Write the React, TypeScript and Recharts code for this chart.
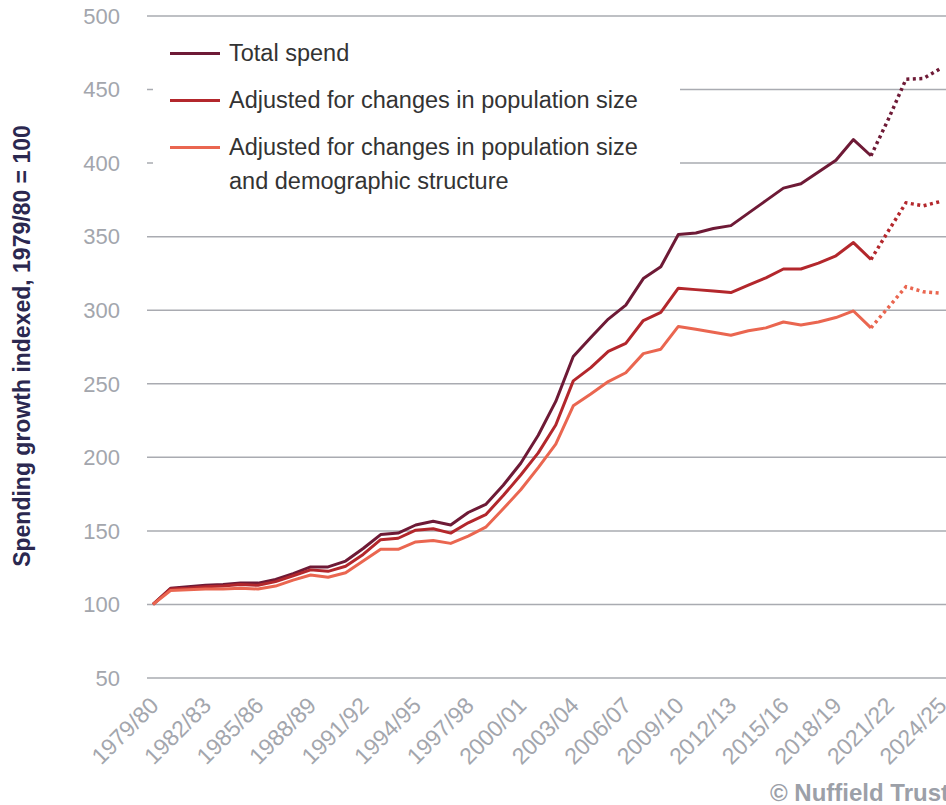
import React from 'react';
import {
  LineChart,
  Line,
  XAxis,
  YAxis,
  CartesianGrid,
} from 'recharts';

const years = [
  '1979/80', '1980/81', '1981/82', '1982/83', '1983/84', '1984/85', '1985/86', '1986/87',
  '1987/88', '1988/89', '1989/90', '1990/91', '1991/92', '1992/93', '1993/94', '1994/95',
  '1995/96', '1996/97', '1997/98', '1998/99', '1999/00', '2000/01', '2001/02', '2002/03',
  '2003/04', '2004/05', '2005/06', '2006/07', '2007/08', '2008/09', '2009/10', '2010/11',
  '2011/12', '2012/13', '2013/14', '2014/15', '2015/16', '2016/17', '2017/18', '2018/19',
  '2019/20', '2020/21', '2021/22', '2022/23', '2023/24', '2024/25',
];

const totalSpend = [
  100, 111, 112, 113, 113.5, 114.5, 114.5, 117, 121, 125.5, 125.5, 129.5, 138, 147.5, 148.5, 154,
  156.5, 154, 162.5, 168, 181, 196, 215, 238, 268.5, 281.5, 294, 303.5, 321.5, 329.5, 351.5, 352.5,
  355.5, 357.5, 366, 374.5, 383, 386, 394, 402, 416, 405, 430, 457, 457.5, 464.5,
];

const populationAdjusted = [
  100, 110.5, 111, 112, 112.5, 113.5, 113, 115.5, 119.5, 123.5, 122.5, 126, 134, 144, 145, 150.5,
  151.5, 148.5, 155.5, 161, 174, 188, 203, 222, 252, 261, 272, 277.5, 293, 298.5, 315, 314,
  313, 312, 317, 322, 328, 328, 332, 337, 346, 334.5, 354, 373, 371, 374,
];

const demographyAdjusted = [
  100, 109.5, 110, 110.5, 110.5, 111, 110.5, 112.5, 116.5, 120, 118.5, 121.5, 129.5, 137.5, 137.5, 142.5,
  143.5, 141.5, 146.5, 152.5, 165, 178, 193, 209, 235, 243, 251.5, 257.5, 270.5, 273.5, 289, 287,
  285, 283, 286, 288, 292, 290, 292, 295, 299.5, 288, 302, 316, 312.5, 311.5,
];

const yTicks = [50, 100, 150, 200, 250, 300, 350, 400, 450, 500];

// last outturn year; projections are drawn dotted from here on
const LAST_ACTUAL = years.indexOf('2020/21');

const series = [
  { key: 'total', name: ['Total spend'], values: totalSpend, color: '#6e1a36' },
  { key: 'pop', name: ['Adjusted for changes in population size'], values: populationAdjusted, color: '#b3272c' },
  {
    key: 'demo',
    name: ['Adjusted for changes in population size', 'and demographic structure'],
    values: demographyAdjusted,
    color: '#ea6650',
  },
];

const data = years.map((year, i) => {
  const row: Record<string, string | number | null> = { year };
  series.forEach((s) => {
    row[s.key] = i <= LAST_ACTUAL ? s.values[i] : null;
    row[s.key + 'Proj'] = i >= LAST_ACTUAL ? s.values[i] : null;
  });
  return row;
});

const FONT = '"Liberation Sans", Arial, sans-serif';
const GREY = '#a3a6ad';

function YearTick(props: any) {
  const { x, y, payload } = props;
  return (
    <text
      x={x + 7}
      y={y}
      transform={`rotate(-45 ${x + 7} ${y})`}
      textAnchor="end"
      fontSize={23}
      fill={GREY}
      fontFamily={FONT}
    >
      {payload.value}
    </text>
  );
}

function LegendBox() {
  return (
    <div
      style={{
        position: 'absolute',
        left: 153,
        top: 33,
        width: 510,
        background: '#fff',
        padding: '3px 0 6px 17px',
        fontFamily: FONT,
      }}
    >
      {series.map((s, i) => (
        <div key={i} style={{ display: 'flex', alignItems: 'flex-start', marginBottom: i < 2 ? 13 : 0 }}>
          <div style={{ width: 50, height: 3, background: s.color, marginTop: 16, marginRight: 9, flex: 'none' }} />
          <div style={{ fontSize: 23.5, color: '#333', lineHeight: '34px', whiteSpace: 'nowrap' }}>
            {s.name.map((t, j) => (
              <div key={j}>{t}</div>
            ))}
          </div>
        </div>
      ))}
    </div>
  );
}

export default function App() {
  return (
    <div style={{ position: 'absolute', left: 0, top: 0, width: 946, height: 805, background: '#fff', overflow: 'hidden' }}>
      <LineChart width={946} height={805} data={data} margin={{ top: 16, right: 0, bottom: 0, left: 0 }}>
        <CartesianGrid vertical={false} stroke="#a9abb1" strokeWidth={1.5} />
        <XAxis
          dataKey="year"
          interval={2}
          height={127}
          tickLine={false}
          axisLine={false}
          tickSize={0}
          tickMargin={29}
          padding={{ left: 6, right: 5 }}
          tick={<YearTick />}
        />
        <YAxis
          width={147}
          domain={[50, 500]}
          ticks={yTicks}
          axisLine={false}
          tickLine={false}
          tickSize={0}
          tickMargin={27}
          tick={{ fontSize: 22, fill: GREY, fontFamily: FONT }}
          label={{
            content: () => (
              <text
                x={30}
                y={346}
                transform="rotate(-90 30 346)"
                textAnchor="middle"
                fontSize={23}
                fontWeight="bold"
                fill="#2b2850"
                fontFamily={FONT}
              >
                Spending growth indexed, 1979/80 = 100
              </text>
            ),
          }}
        />
        {series.map((s) => (
          <Line
            key={s.key}
            dataKey={s.key}
            stroke={s.color}
            strokeWidth={3}
            dot={false}
            activeDot={false}
            strokeLinejoin="round"
            isAnimationActive={false}
          />
        ))}
        {series.map((s) => (
          <Line
            key={s.key + 'Proj'}
            dataKey={s.key + 'Proj'}
            stroke={s.color}
            strokeWidth={3.5}
            strokeDasharray="3 3.5"
            dot={false}
            activeDot={false}
            isAnimationActive={false}
          />
        ))}
      </LineChart>
      <LegendBox />
      <div
        style={{
          position: 'absolute',
          left: 770,
          top: 779,
          fontFamily: FONT,
          fontWeight: 'bold',
          fontSize: 24,
          color: '#9ca0a8',
          whiteSpace: 'nowrap',
        }}
      >
        © Nuffield Trust
      </div>
    </div>
  );
}
